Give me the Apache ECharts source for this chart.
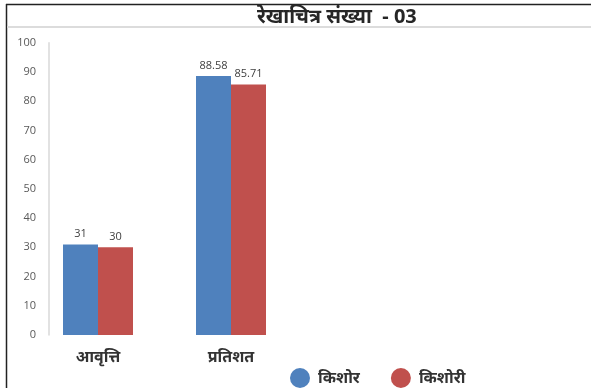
<!DOCTYPE html>
<html>
<head>
<meta charset="utf-8">
<script src="https://cdn.jsdelivr.net/npm/echarts@6/dist/echarts.min.js"></script>
<style>html,body{margin:0;padding:0;background:#fff}#c{width:591px;height:388px}</style>
</head>
<body>
<div id="c"></div>
<script>
const titleText = 'रेखाचित्र संख्या  - 03';
const categories = ['आवृत्ति', 'प्रतिशत'];
const seriesNames = ['किशोर', 'किशोरी'];
const boysValues = [31, 88.58];
const girlsValues = [30, 85.71];
const yMin = 0, yMax = 100, yStep = 10;

const font = '"Noto Sans", "Lohit Devanagari", "Noto Sans Devanagari", sans-serif';
const chart = echarts.init(document.getElementById('c'), null, {renderer: 'canvas'});
chart.setOption({
  animation: false,
  backgroundColor: '#fff',
  title: {
    text: titleText, left: 252, top: 2,
    textStyle: {fontFamily: font, fontSize: 20, fontWeight: 'bold', color: '#262626'}
  },
  graphic: [
    {type: 'line', shape: {x1: 6, y1: 4.5, x2: 591, y2: 4.5}, style: {stroke: '#222', lineWidth: 1.5}},
    {type: 'line', shape: {x1: 6.5, y1: 4, x2: 6.5, y2: 388}, style: {stroke: '#222', lineWidth: 1.5}},
    {type: 'line', shape: {x1: 7, y1: 27, x2: 591, y2: 27}, style: {stroke: '#dcdcdc', lineWidth: 2}}
  ],
  legend: {
    data: seriesNames, left: 285, top: 363, icon: 'circle',
    itemWidth: 20, itemHeight: 20, itemGap: 31,
    textStyle: {fontFamily: font, fontSize: 16, fontWeight: 'bold', color: '#333', padding: [0, 0, 0, 3]}
  },
  grid: {left: 31.5, right: 293.5, top: 42.7, bottom: 53},
  xAxis: {
    type: 'category', data: categories,
    axisLine: {show: false}, axisTick: {show: false},
    axisLabel: {fontFamily: font, fontSize: 16, fontWeight: 'bold', color: '#333', margin: 14}
  },
  yAxis: {
    type: 'value', min: yMin, max: yMax, interval: yStep, offset: -17.5,
    axisLine: {show: true, lineStyle: {color: '#d9d9d9', width: 1.5}},
    axisTick: {show: false}, splitLine: {show: false},
    axisLabel: {fontFamily: '"Open Sans", "Liberation Sans", sans-serif', fontSize: 11, color: '#595959', margin: 13}
  },
  series: [
    {name: seriesNames[0], type: 'bar', data: boysValues, barWidth: 35, barGap: '0%',
     itemStyle: {color: '#4F81BD'},
     label: {show: true, position: 'top', distance: 5, fontSize: 11, color: '#404040', fontFamily: '"Open Sans", sans-serif'}},
    {name: seriesNames[1], type: 'bar', data: girlsValues, barWidth: 35, barGap: '0%',
     itemStyle: {color: '#C0504D'},
     label: {show: true, position: 'top', distance: 5, fontSize: 11, color: '#404040', fontFamily: '"Open Sans", sans-serif'}}
  ]
});
</script>
</body>
</html>
